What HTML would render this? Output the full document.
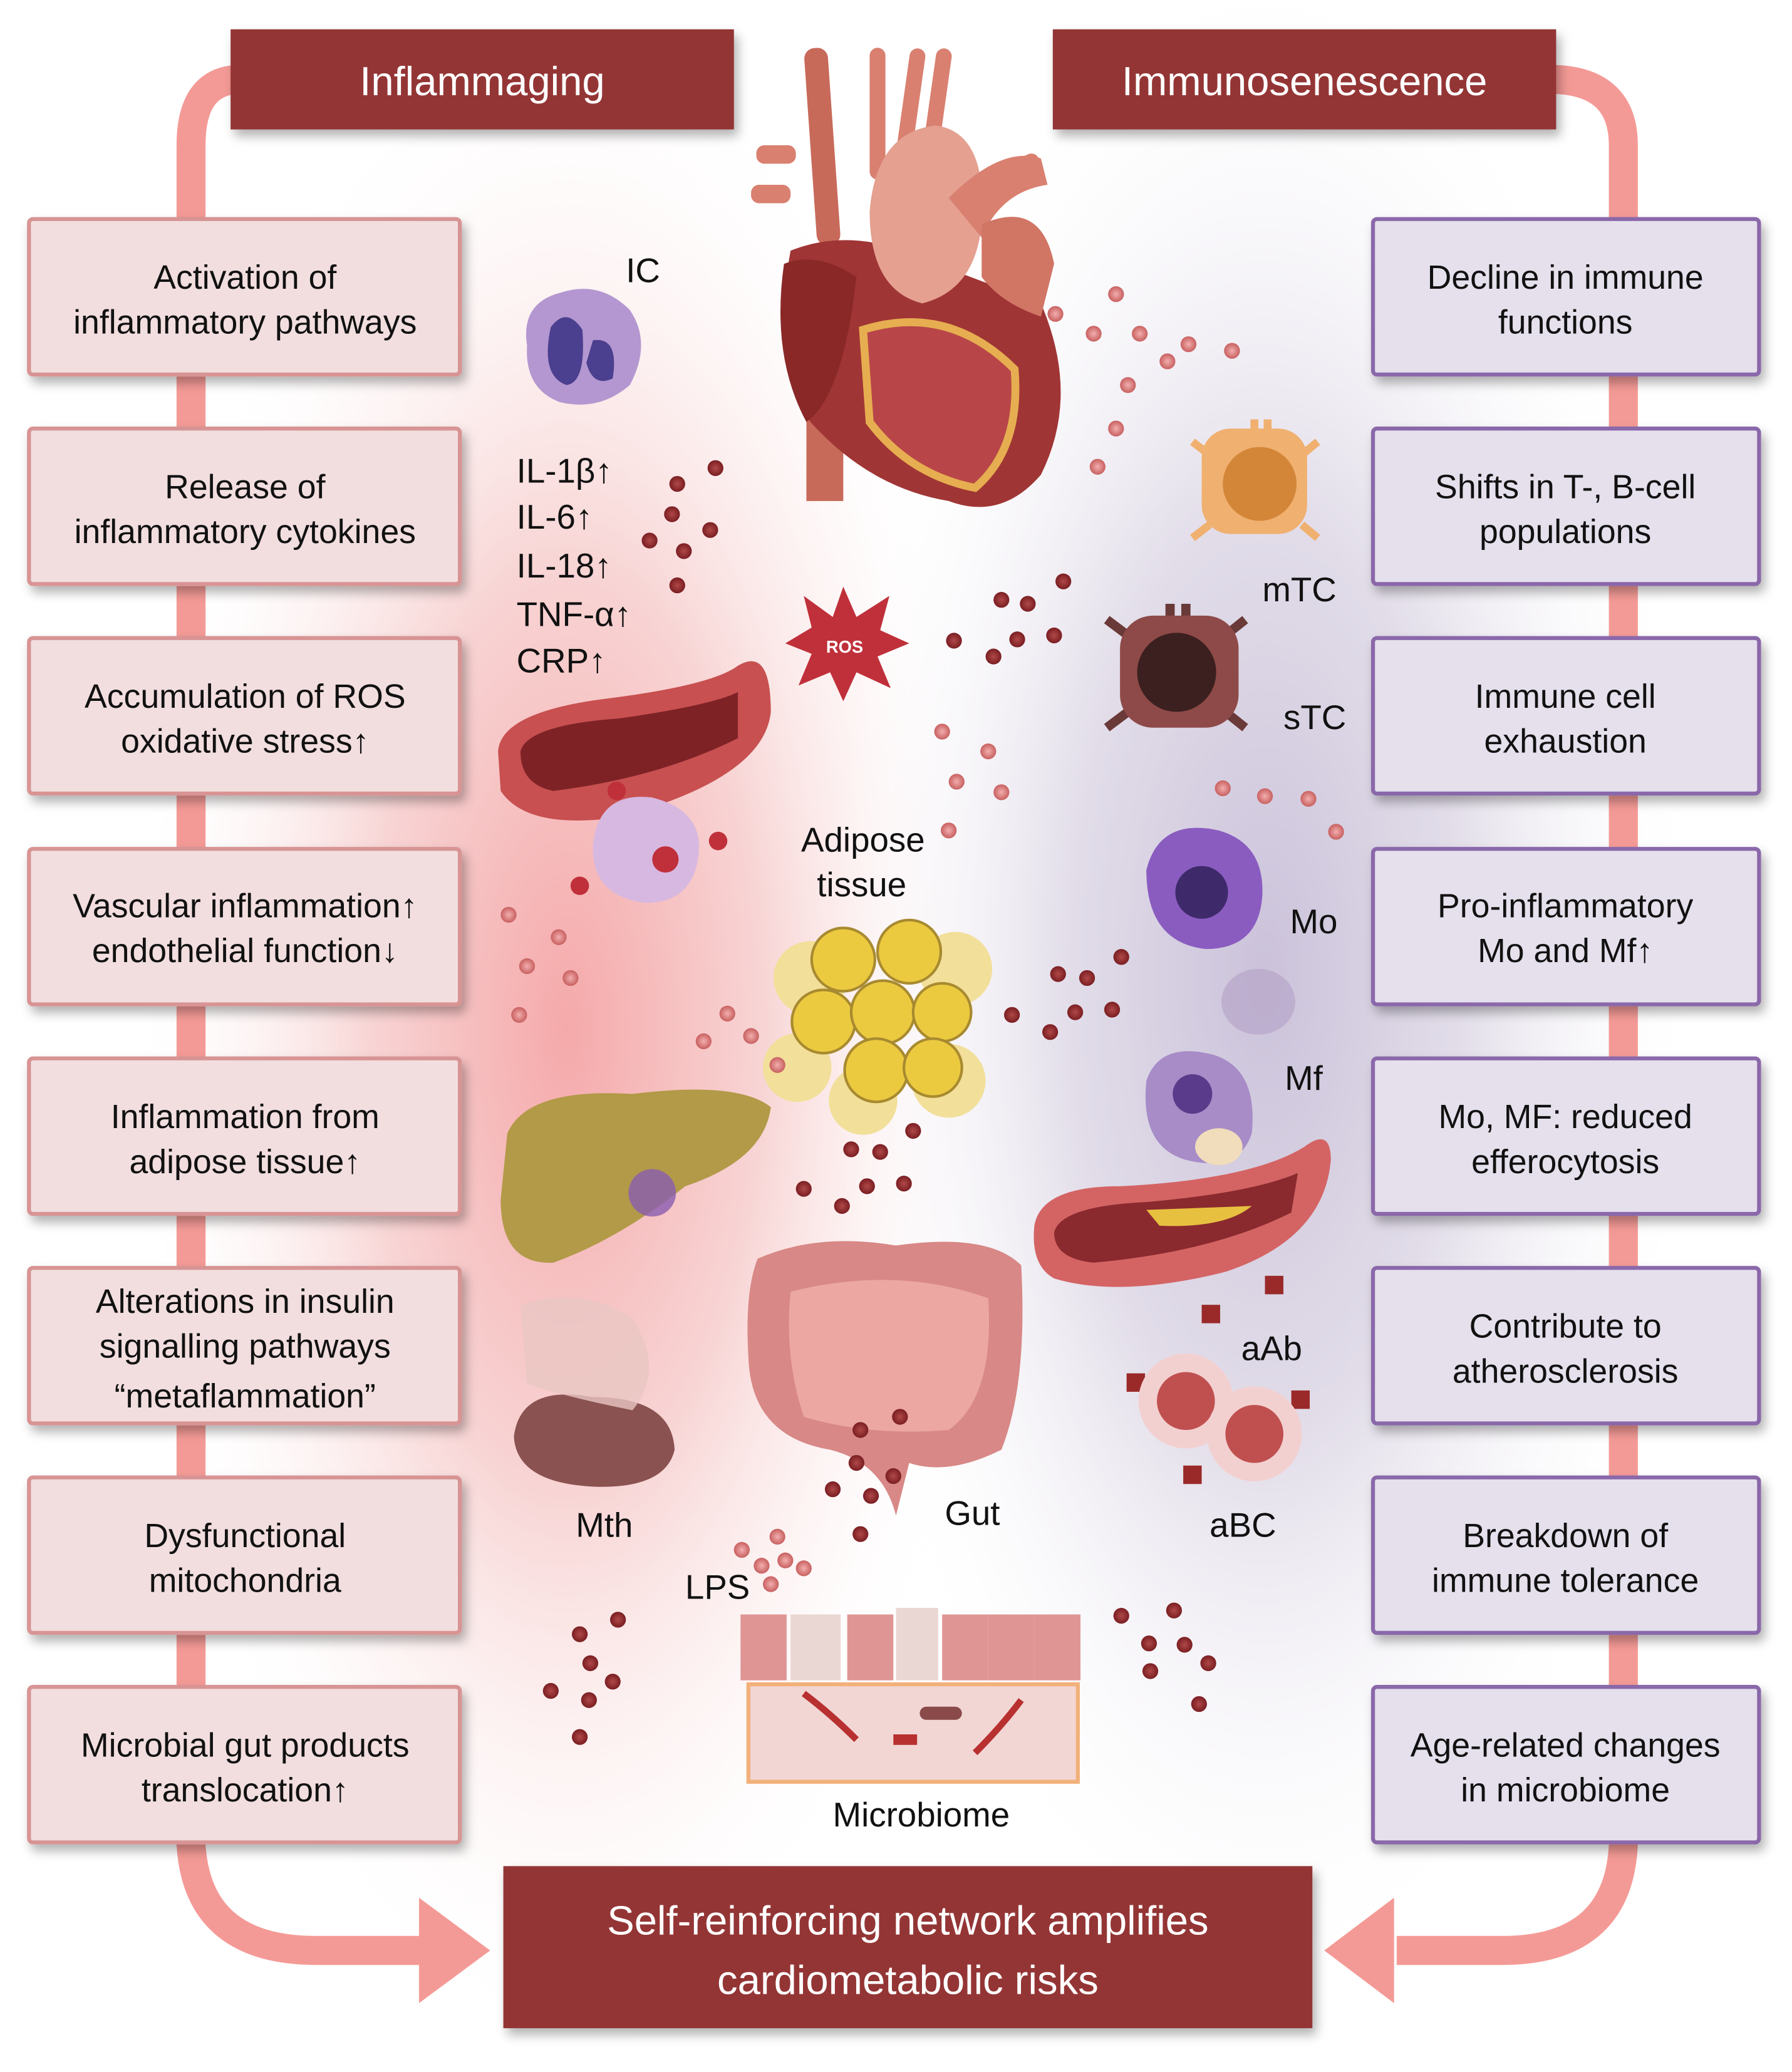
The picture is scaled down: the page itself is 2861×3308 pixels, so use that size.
<!DOCTYPE html>
<html><head><meta charset="utf-8">
<style>
html,body{margin:0;padding:0;background:#fff;}
svg{display:block;}
text{font-family:"Liberation Sans Narrow","Liberation Sans",sans-serif;}
</style></head>
<body>
<svg width="2861" height="3308" viewBox="0 0 1360 1572" xmlns="http://www.w3.org/2000/svg">
<defs>
<radialGradient id="gl" cx="0.5" cy="0.5" r="0.5">
<stop offset="0" stop-color="#f5a9aa"/><stop offset="0.45" stop-color="#f8d4d4"/><stop offset="1" stop-color="#fff" stop-opacity="0"/>
</radialGradient>
<radialGradient id="gr" cx="0.5" cy="0.5" r="0.5">
<stop offset="0" stop-color="#cbc2da"/><stop offset="0.45" stop-color="#e2dde9"/><stop offset="1" stop-color="#fff" stop-opacity="0"/>
</radialGradient>
<filter id="sh" x="-10%" y="-10%" width="130%" height="140%"><feDropShadow dx="3" dy="5" stdDeviation="4" flood-color="#000" flood-opacity="0.3"/></filter>
<radialGradient id="dot"><stop offset="0" stop-color="#b04848"/><stop offset="1" stop-color="#7a1e22"/></radialGradient>
<radialGradient id="pdot"><stop offset="0" stop-color="#f3aeae"/><stop offset="1" stop-color="#c86060"/></radialGradient>
</defs>
<rect width="1360" height="1572" fill="#fff"/>
<!-- backgrounds -->
<ellipse cx="430" cy="780" rx="330" ry="780" fill="url(#gl)"/>
<ellipse cx="960" cy="740" rx="330" ry="780" fill="url(#gr)"/>

<!-- loop connectors -->
<g fill="none" stroke="#f49a96" stroke-width="22">
<path d="M180 60 Q145 62 145 110 L145 1400 Q150 1480 240 1480 L320 1480"/>
<path d="M1180 60 Q1232 62 1232 110 L1232 1400 Q1228 1480 1140 1480 L1060 1480"/>
</g>
<polygon points="318,1440 318,1520 372,1480" fill="#f49a96"/>
<polygon points="1058,1440 1058,1520 1005,1480" fill="#f49a96"/>

<!-- headers -->
<g filter="url(#sh)">
<rect x="175" y="22" width="382" height="76" fill="#943434"/>
<rect x="799" y="22" width="382" height="76" fill="#943434"/>
<rect x="382" y="1416" width="614" height="123" fill="#943434"/>
</g>
<g fill="#fff" text-anchor="middle" font-size="31">
<text x="366" y="72">Inflammaging</text>
<text x="990" y="72">Immunosenescence</text>
<text x="689" y="1468">Self-reinforcing network amplifies</text>
<text x="689" y="1513">cardiometabolic risks</text>
</g>

<!-- left boxes -->
<g filter="url(#sh)" fill="#f2dedf" stroke="#d89494" stroke-width="3">
<rect x="22" y="166" width="327" height="118" rx="3"/>
<rect x="22" y="325" width="327" height="118" rx="3"/>
<rect x="22" y="484" width="327" height="118" rx="3"/>
<rect x="22" y="644" width="327" height="118" rx="3"/>
<rect x="22" y="803" width="327" height="118" rx="3"/>
<rect x="22" y="962" width="327" height="118" rx="3"/>
<rect x="22" y="1121" width="327" height="118" rx="3"/>
<rect x="22" y="1280" width="327" height="118" rx="3"/>
</g>
<g filter="url(#sh)" fill="#e5e0ec" stroke="#8a68aa" stroke-width="3">
<rect x="1042" y="166" width="293" height="118" rx="3"/>
<rect x="1042" y="325" width="293" height="118" rx="3"/>
<rect x="1042" y="484" width="293" height="118" rx="3"/>
<rect x="1042" y="644" width="293" height="118" rx="3"/>
<rect x="1042" y="803" width="293" height="118" rx="3"/>
<rect x="1042" y="962" width="293" height="118" rx="3"/>
<rect x="1042" y="1121" width="293" height="118" rx="3"/>
<rect x="1042" y="1280" width="293" height="118" rx="3"/>
</g>
<g fill="#111" text-anchor="middle" font-size="25.5">
<text x="186" y="219">Activation of</text><text x="186" y="253">inflammatory pathways</text>
<text x="186" y="378">Release of</text><text x="186" y="412">inflammatory cytokines</text>
<text x="186" y="537">Accumulation of ROS</text><text x="186" y="571">oxidative stress↑</text>
<text x="186" y="696">Vascular inflammation↑</text><text x="186" y="730">endothelial function↓</text>
<text x="186" y="856">Inflammation from</text><text x="186" y="890">adipose tissue↑</text>
<text x="186" y="996">Alterations in insulin</text><text x="186" y="1030">signalling pathways</text><text x="186" y="1068">“metaflammation”</text>
<text x="186" y="1174">Dysfunctional</text><text x="186" y="1208">mitochondria</text>
<text x="186" y="1333">Microbial gut products</text><text x="186" y="1367">translocation↑</text>

<text x="1188" y="219">Decline in immune</text><text x="1188" y="253">functions</text>
<text x="1188" y="378">Shifts in T-, B-cell</text><text x="1188" y="412">populations</text>
<text x="1188" y="537">Immune cell</text><text x="1188" y="571">exhaustion</text>
<text x="1188" y="696">Pro-inflammatory</text><text x="1188" y="730">Mo and Mf↑</text>
<text x="1188" y="856">Mo, MF: reduced</text><text x="1188" y="890">efferocytosis</text>
<text x="1188" y="1015">Contribute to</text><text x="1188" y="1049">atherosclerosis</text>
<text x="1188" y="1174">Breakdown of</text><text x="1188" y="1208">immune tolerance</text>
<text x="1188" y="1333">Age-related changes</text><text x="1188" y="1367">in microbiome</text>
</g>

<!-- heart -->
<g>
<rect x="612" y="270" width="28" height="110" fill="#c86a5a"/>
<rect x="615" y="36" width="18" height="150" rx="8" fill="#c86a5a" transform="rotate(-4 624 110)"/>
<rect x="685" y="36" width="12" height="90" rx="6" fill="#d98070" transform="rotate(8 690 80)"/>
<rect x="705" y="36" width="12" height="90" rx="6" fill="#d98070" transform="rotate(8 710 80)"/>
<rect x="660" y="36" width="12" height="100" rx="6" fill="#d98070"/>
<path d="M600 190 Q650 170 710 200 L790 230 Q820 300 790 360 Q760 395 720 380 Q660 370 615 320 Q585 270 600 190 Z" fill="#a03535"/>
<path d="M595 200 Q620 190 650 210 Q640 300 612 320 Q585 270 595 200Z" fill="#8a2828"/>
<path d="M655 250 Q720 230 770 280 Q775 340 740 370 Q690 360 660 320 Z" fill="#b84648" stroke="#e6ae50" stroke-width="6"/>
<path d="M660 160 Q665 100 710 95 Q750 100 745 170 Q740 220 700 230 Q660 220 660 160Z" fill="#e5a090"/>
<path d="M720 150 Q760 110 790 120 L795 140 Q760 145 745 180Z" fill="#d98070"/>
<path d="M745 170 Q790 150 800 200 L790 240 Q760 230 745 210Z" fill="#d17565"/>
<rect x="760" y="120" width="30" height="14" rx="6" fill="#d98070" transform="rotate(-25 775 127)"/>
<rect x="574" y="110" width="30" height="14" rx="6" fill="#d98070"/>
<rect x="570" y="140" width="30" height="14" rx="6" fill="#d98070"/>
</g>

<!-- IC cell -->
<g>
<path d="M400 262 Q395 230 425 222 Q455 212 478 235 Q495 260 478 292 Q455 312 425 305 Q398 295 400 262Z" fill="#b497d0"/>
<path d="M418 248 Q430 232 442 250 Q445 290 430 292 Q410 285 418 248Z M450 258 Q470 255 465 287 Q450 294 445 275Z" fill="#4b3f8f"/>
</g>
<g fill="#111" font-size="26">
<text x="475" y="214">IC</text>
<text x="392" y="366">IL-1β↑</text>
<text x="392" y="401">IL-6↑</text>
<text x="392" y="438">IL-18↑</text>
<text x="392" y="475">TNF-α↑</text>
<text x="392" y="510">CRP↑</text>
<text x="958" y="456">mTC</text>
<text x="974" y="553">sTC</text>
<text x="608" y="646">Adipose</text>
<text x="620" y="680">tissue</text>
<text x="979" y="708">Mo</text>
<text x="975" y="827">Mf</text>
<text x="942" y="1032">aAb</text>
<text x="918" y="1166">aBC</text>
<text x="437" y="1166">Mth</text>
<text x="717" y="1157">Gut</text>
<text x="520" y="1213">LPS</text>
<text x="632" y="1386">Microbiome</text>
</g>

<!-- ROS -->
<polygon points="640,445 650,468 675,452 668,478 690,488 666,498 676,522 650,510 640,532 630,510 606,520 616,496 596,488 616,476 610,452 632,468" fill="#c0303a"/>
<text x="641" y="495" fill="#fff" font-size="13" text-anchor="middle" font-weight="bold">ROS</text>

<!-- left vessel -->
<path d="M378 570 Q380 540 460 530 Q540 520 560 505 Q585 490 585 540 Q580 590 470 620 Q400 630 380 600 Z" fill="#c85050"/>
<path d="M395 570 Q400 550 470 545 Q540 535 560 525 L560 560 Q500 590 420 600 Q395 595 395 570Z" fill="#7e2226"/>
<path d="M450 640 Q455 600 495 605 Q535 615 530 650 Q525 685 490 685 Q448 680 450 640Z" fill="#d7b8e0"/>
<circle cx="505" cy="652" r="10" fill="#c0303a"/><circle cx="468" cy="600" r="7" fill="#c0303a"/><circle cx="545" cy="638" r="7" fill="#c0303a"/><circle cx="440" cy="672" r="7" fill="#c0303a"/>

<!-- T cells -->
<g stroke="#f0b070" stroke-width="6"><path d="M952 318 V330 M962 318 V330 M905 335 L918 345 M1000 335 L988 345 M905 408 L918 398 M1000 408 L988 398"/></g>
<rect x="912" y="325" width="80" height="80" rx="22" fill="#f0b070"/>
<circle cx="956" cy="367" r="28" fill="#d38638"/>
<g stroke="#6a3a38" stroke-width="7"><path d="M888 458 V472 M900 458 V472 M840 470 L856 482 M945 470 L930 482 M840 552 L856 540 M945 552 L930 540"/></g>
<rect x="850" y="467" width="90" height="85" rx="25" fill="#8e4a48"/>
<circle cx="893" cy="510" r="30" fill="#3c2020"/>

<!-- Mo -->
<path d="M870 660 Q880 620 925 630 Q960 640 958 680 Q955 720 915 720 Q870 715 870 660Z" fill="#8a5cc0"/>
<circle cx="912" cy="677" r="20" fill="#3e2a6a"/>
<ellipse cx="955" cy="760" rx="28" ry="25" fill="#b7a5c9" opacity="0.7"/>
<!-- Mf -->
<path d="M870 820 Q880 790 920 800 Q955 810 950 860 Q940 890 900 880 Q865 870 870 820Z" fill="#a78cc8"/>
<circle cx="905" cy="830" r="15" fill="#5a3a8a"/>
<ellipse cx="925" cy="870" rx="18" ry="14" fill="#f1dcbb"/>

<!-- right vessel -->
<path d="M785 930 Q790 900 850 900 Q950 895 990 870 Q1010 855 1010 880 Q1005 940 930 965 Q850 985 800 970 Q782 960 785 930Z" fill="#d46464"/>
<path d="M800 935 Q805 915 870 912 Q950 905 985 890 L980 920 Q920 950 830 958 Q800 955 800 935Z" fill="#8a2a2e"/>
<path d="M870 918 L950 915 Q930 932 880 930Z" fill="#e8c040"/>

<!-- antibodies + aBC -->
<g fill="#9a2a2a">
<rect x="960" y="968" width="14" height="14"/><rect x="912" y="990" width="14" height="14"/>
<rect x="855" y="1042" width="14" height="14"/><rect x="980" y="1055" width="14" height="14"/><rect x="898" y="1112" width="14" height="14"/>
</g>
<circle cx="900" cy="1063" r="36" fill="#f3d0d0"/><circle cx="900" cy="1063" r="22" fill="#c05050"/>
<circle cx="952" cy="1088" r="36" fill="#f3d0d0"/><circle cx="952" cy="1088" r="22" fill="#c05050"/>

<!-- adipose -->
<g fill="#f2df9a">
<circle cx="615" cy="742" r="28"/><circle cx="725" cy="735" r="28"/><circle cx="605" cy="810" r="26"/><circle cx="720" cy="820" r="28"/><circle cx="655" cy="835" r="26"/>
</g>
<g fill="#ecca40" stroke="#a88a30" stroke-width="2">
<circle cx="640" cy="728" r="24"/><circle cx="690" cy="722" r="24"/><circle cx="625" cy="775" r="24"/><circle cx="670" cy="768" r="24"/><circle cx="715" cy="768" r="22"/><circle cx="665" cy="812" r="24"/><circle cx="708" cy="810" r="22"/>
</g>

<!-- liver -->
<path d="M385 860 Q400 825 480 830 Q560 820 585 840 Q580 880 520 900 Q470 940 420 958 Q380 960 380 910Z" fill="#b29a48"/>
<circle cx="495" cy="905" r="18" fill="#8a5cb0" opacity="0.8"/>

<!-- gut -->
<path d="M575 955 Q620 935 680 945 Q750 935 775 960 Q780 1050 760 1100 Q720 1120 690 1110 L680 1150 Q670 1110 630 1100 Q570 1090 568 1030 Q565 980 575 955Z" fill="#d88886"/>
<path d="M600 980 Q680 960 750 985 Q755 1060 720 1085 Q660 1090 610 1075 Q595 1030 600 980Z" fill="#eca7a2"/>

<!-- mitochondria -->
<path d="M390 1090 Q395 1050 450 1060 Q510 1060 512 1100 Q505 1130 450 1128 Q392 1125 390 1090Z" fill="#8a5250"/>
<path d="M395 990 Q440 975 480 1000 Q505 1040 480 1070 Q430 1060 400 1050Z" fill="#e8c7c3" opacity="0.8"/>

<!-- microbiome -->
<rect x="568" y="1278" width="250" height="74" fill="#f2d6d4" stroke="#f2b07a" stroke-width="3"/>
<g fill="#e09595"><rect x="562" y="1225" width="35" height="50"/><rect x="643" y="1225" width="35" height="50"/><rect x="715" y="1225" width="35" height="50"/><rect x="750" y="1225" width="35" height="50"/><rect x="785" y="1225" width="35" height="50"/></g>
<g fill="#ead7d4"><rect x="600" y="1225" width="38" height="50"/><rect x="680" y="1220" width="32" height="55"/></g>
<path d="M610 1285 Q630 1300 650 1320 M740 1330 Q760 1310 775 1290" stroke="#b83030" stroke-width="5" fill="none"/>
<rect x="698" y="1295" width="32" height="10" rx="5" fill="#8a4a4a"/>
<rect x="678" y="1316" width="18" height="8" fill="#b83030"/>

<!-- dark dots -->
<g fill="url(#dot)">
<circle cx="514" cy="367" r="6"/><circle cx="543" cy="355" r="6"/><circle cx="510" cy="390" r="6"/><circle cx="493" cy="410" r="6"/><circle cx="539" cy="402" r="6"/><circle cx="519" cy="418" r="6"/><circle cx="514" cy="444" r="6"/>
<circle cx="807" cy="441" r="6"/><circle cx="760" cy="455" r="6"/><circle cx="780" cy="458" r="6"/><circle cx="724" cy="486" r="6"/><circle cx="772" cy="485" r="6"/><circle cx="800" cy="482" r="6"/><circle cx="754" cy="498" r="6"/>
<circle cx="851" cy="726" r="6"/><circle cx="803" cy="739" r="6"/><circle cx="825" cy="742" r="6"/><circle cx="768" cy="770" r="6"/><circle cx="816" cy="768" r="6"/><circle cx="844" cy="766" r="6"/><circle cx="797" cy="783" r="6"/>
<circle cx="693" cy="858" r="6"/><circle cx="646" cy="872" r="6"/><circle cx="668" cy="874" r="6"/><circle cx="610" cy="902" r="6"/><circle cx="658" cy="900" r="6"/><circle cx="686" cy="898" r="6"/><circle cx="639" cy="915" r="6"/>
<circle cx="653" cy="1085" r="6"/><circle cx="683" cy="1075" r="6"/><circle cx="650" cy="1110" r="6"/><circle cx="632" cy="1130" r="6"/><circle cx="678" cy="1120" r="6"/><circle cx="661" cy="1135" r="6"/><circle cx="653" cy="1164" r="6"/>
<circle cx="469" cy="1229" r="6"/><circle cx="440" cy="1240" r="6"/><circle cx="448" cy="1262" r="6"/><circle cx="418" cy="1283" r="6"/><circle cx="465" cy="1276" r="6"/><circle cx="447" cy="1290" r="6"/><circle cx="440" cy="1318" r="6"/>
<circle cx="891" cy="1222" r="6"/><circle cx="851" cy="1226" r="6"/><circle cx="872" cy="1247" r="6"/><circle cx="899" cy="1248" r="6"/><circle cx="917" cy="1262" r="6"/><circle cx="873" cy="1268" r="6"/><circle cx="910" cy="1293" r="6"/>
</g>
<!-- pink dots -->
<g fill="url(#pdot)">
<circle cx="801" cy="238" r="6"/><circle cx="847" cy="223" r="6"/><circle cx="830" cy="253" r="6"/><circle cx="865" cy="253" r="6"/><circle cx="902" cy="261" r="6"/><circle cx="935" cy="266" r="6"/><circle cx="886" cy="274" r="6"/><circle cx="856" cy="292" r="6"/><circle cx="847" cy="325" r="6"/><circle cx="833" cy="354" r="6"/>
<circle cx="715" cy="555" r="6"/><circle cx="750" cy="570" r="6"/><circle cx="726" cy="593" r="6"/><circle cx="760" cy="601" r="6"/><circle cx="720" cy="630" r="6"/>
<circle cx="928" cy="598" r="6"/><circle cx="960" cy="604" r="6"/><circle cx="993" cy="606" r="6"/><circle cx="1014" cy="631" r="6"/>
<circle cx="386" cy="694" r="6"/><circle cx="424" cy="711" r="6"/><circle cx="400" cy="733" r="6"/><circle cx="433" cy="742" r="6"/><circle cx="394" cy="770" r="6"/>
<circle cx="552" cy="769" r="6"/><circle cx="570" cy="786" r="6"/><circle cx="534" cy="790" r="6"/><circle cx="590" cy="808" r="6"/>
<circle cx="563" cy="1176" r="6"/><circle cx="590" cy="1166" r="6"/><circle cx="578" cy="1188" r="6"/><circle cx="596" cy="1184" r="6"/><circle cx="610" cy="1190" r="6"/><circle cx="585" cy="1202" r="6"/>
</g>
</svg>
</body></html>
